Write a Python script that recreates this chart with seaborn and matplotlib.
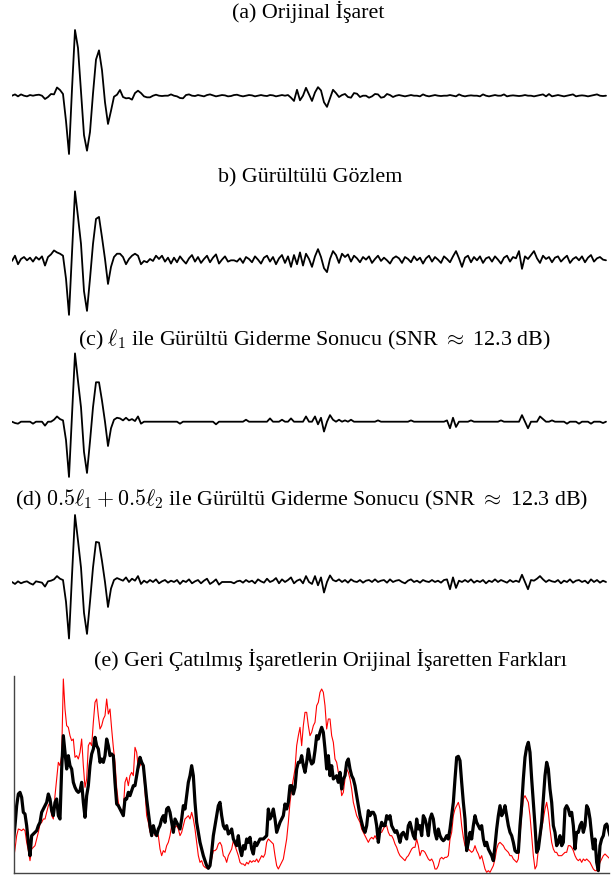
import numpy as np
import matplotlib
matplotlib.use('Agg')
import matplotlib.pyplot as plt
import seaborn as sns

# panel titles
titles = [
    '(a) Orijinal İşaret',
    'b) Gürültülü Gözlem',
    r'(c) $\ell_1$ ile Gürültü Giderme Sonucu (SNR $\approx$ 12.3 dB)',
    r'(d) $0.5\ell_1+0.5\ell_2$ ile Gürültü Giderme Sonucu (SNR $\approx$ 12.3 dB)',
    '(e) Geri Çatılmış İşaretlerin Orijinal İşaretten Farkları',
]

# (a) original signal, uniform samples
original = [
    0, 0.02, -0.01, 0.02, 0, -0.01, 0.01, 0, 0.01, 0.015, 0, -0.05, -0.02, 0.026, 0.02, 0.125, 0.087, 0.026,
    -0.385, -0.887, 0.1, 1.0, 0.726, 0.07, -0.6, -0.837, -0.553, 0.032, 0.55, 0.69, 0.388, -0.1, -0.43, -0.23, -0.015, 0.015,
    0.087, -0.02, -0.04, -0.035, -0.06, 0.04, 0.076, 0.04, -0.01, -0.025, -0.025, 0, 0.015, 0, -0.005, 0, 0, 0.02,
    0, -0.01, -0.035, -0.04, 0.01, 0.02, 0, -0.005, 0.01, 0, -0.01, 0.01, 0.02, 0.005, -0.01, 0, 0.01, 0.005, -0.01,
    -0.005, 0.01, 0.015, 0, -0.01, 0, 0.01, 0.005, -0.01, 0, 0.01, 0, -0.005, 0.01, 0.005, -0.01, 0, 0.01,
    0, 0.01, -0.03, -0.08, 0.09, -0.07, 0.0, 0.12, 0.02, -0.08, 0.05, 0.13, 0.08, -0.1, -0.17, -0.04, 0.09, 0.04, -0.02,
    0.01, 0.026, -0.02, -0.03, 0.04, 0.03, -0.02, 0, 0, -0.03, -0.01, 0.026, 0.02, -0.03, -0.02, 0.026, 0.01, -0.02, 0,
    0.01, 0, -0.01, 0, 0.01, 0, 0, -0.01, 0.02, 0, -0.01, 0, 0.01, 0, -0.005, 0, 0, 0.01, 0, -0.01,
    0.02, 0, -0.01, 0, 0.005, 0, 0, -0.01, 0.02, 0, -0.01, 0, 0.01, 0, 0, 0.02, -0.01, 0, 0.005, 0,
    -0.005, 0, 0.01, 0, 0, -0.01, 0, 0.01, 0.02, -0.01, 0.025, -0.01, 0, 0.01, 0, -0.01, 0, 0.01, 0.02, -0.01,
    0, 0.005, 0, -0.01, 0, 0.01, 0.02, 0, -0.005, 0,
]

# (b) noisy observation
noisy = [
    -0.01, 0.07, -0.06, 0.02, 0.05, 0.0, 0.04, -0.02, 0.05, 0.01, 0.06, -0.08, 0.05, 0.09, 0.15, 0.12, 0.1, 0.07,
    -0.28, -0.83, 0.11, 1.05, 0.66, 0.25, -0.47, -0.77, -0.28, 0.25, 0.63, 0.66, 0.35, 0.02, -0.36, -0.1, 0.05, 0.1,
    0.1, 0.05, -0.06, 0.02, 0.07, 0.1, 0.07, -0.06, -0.01, -0.03, 0.02, -0.01, 0.07, 0.02, 0.07, -0.02, 0.04, -0.05,
    0.04, -0.03, 0.06, 0.0, -0.05, 0.03, 0.08, -0.02, 0.05, -0.04, 0.02, 0.07, -0.03, 0.04, 0.09, -0.05, 0.01, 0.06,
    -0.02, 0.0, 0.0, -0.02, 0.03, -0.04, 0.05, 0.02, -0.03, 0.06, 0.01, -0.05, 0.04, 0.07, -0.02, 0.05, -0.06, 0.03, 0.08,
    -0.04, 0.06, -0.1, 0.08, -0.06, 0.12, -0.08, 0.1, 0.02, -0.1, 0.06, 0.17, 0.05, -0.12, -0.18, 0.02, 0.14, 0.08, -0.04,
    0.1, 0.05, 0.09, -0.02, 0.07, 0.03, -0.03, 0.05, 0.01, 0.06, -0.04, 0.02, 0.07, -0.01, 0.04, 0.0, -0.05, 0.03, 0.06,
    0.03, -0.04, 0.05, 0.02, -0.03, 0.06, 0.0, 0.04, -0.05, 0.03, 0.07, -0.02, 0.05, 0.01, -0.04, 0.06, 0.02, -0.03, 0.06, 0.14,
    0.03, -0.1, 0.04, 0.07, -0.03, 0.05, 0.0, 0.06, -0.04, 0.03, 0.05, -0.02, 0.06, 0.01, -0.05, 0.04, 0.07, -0.02, 0.05, 0.03,
    0.14, -0.13, 0.06, 0.02, 0.08, 0.14, 0.03, -0.04, 0.07, 0.02, 0.05, -0.03, 0.04, 0.06, -0.02, 0.03, 0.07, -0.04, 0.02, 0.05,
    0.0, 0.06, -0.03, 0.04, 0.08, -0.02, 0.03, 0.05, 0.01, 0.0,
]

# (c) l1 denoised
denoised_l1 = [
    0, -0.02, -0.03, 0, 0, 0, 0, -0.03, 0, 0, 0, -0.06, 0, 0, 0.03, 0.08, 0.04, 0.02,
    -0.28, -0.84, 0.1, 1.04, 0.62, 0.22, -0.46, -0.78, -0.3, 0.22, 0.6, 0.6, 0.32, 0.0, -0.37, -0.1, 0.03, 0.06,
    0.05, 0.02, 0.06, 0.02, 0.04, 0.01, 0.08, -0.03, 0.0, 0, 0, 0, 0, 0, 0, 0, 0, 0,
    0, 0, -0.03, 0, 0, 0, 0, 0, 0, 0, 0, 0, 0, 0, -0.04, 0, 0, 0, 0,
    0, 0, 0, 0, 0, 0.03, 0, 0, 0, 0, 0, 0, 0, 0.05, 0, 0, 0, 0.03,
    0, 0, 0.05, 0, 0, 0, 0, 0.08, 0, 0, 0.08, -0.04, 0.06, -0.15, 0.0, 0.1, 0.03, 0, 0.03,
    0, 0.02, 0, 0.03, 0, 0, 0, 0, 0, 0, 0, 0, 0.02, 0, 0, 0, 0, 0, 0,
    0, 0, 0, 0, 0.02, 0, 0, 0, 0, 0, 0, 0, 0, 0, 0, 0, 0.02, -0.1, 0.06, -0.08,
    0, 0, 0, 0, 0.02, 0, 0, 0, 0, 0, 0, 0, 0, 0, 0.02, 0, 0, 0, 0, 0,
    0, 0.1, 0.0, -0.1, 0, 0, 0, 0.08, 0.04, 0, 0, 0.02, 0, 0, 0, 0, -0.03, 0, 0, 0,
    -0.03, 0, 0, 0, -0.03, 0, 0, 0, -0.02, 0,
]

# (d) 0.5 l1 + 0.5 l2 denoised
denoised_mix = [
    0, -0.03, 0.01, -0.02, 0, 0.01, -0.02, -0.04, 0.01, 0, -0.01, -0.07, 0.01, 0.02, 0.04, 0.09, 0.05, 0.03,
    -0.3, -0.86, 0.1, 1.02, 0.63, 0.22, -0.47, -0.79, -0.3, 0.22, 0.61, 0.6, 0.32, 0.0, -0.38, -0.1, 0.03, 0.06,
    0.04, 0.02, 0.07, 0.0, 0.05, 0.02, 0.09, -0.03, 0.02, -0.01, 0.03, 0.0, 0.04, -0.02, 0.01, 0.03, -0.01, 0.02,
    0.0, 0.03, -0.03, 0.02, 0.0, 0.04, -0.02, 0.01, 0.03, -0.02, 0.02, 0.05, -0.03, 0.0, 0.04, -0.04, 0.0, 0.0, 0.0,
    0.0, -0.02, 0.01, 0.02, -0.01, 0.03, 0.0, 0.02, -0.02, 0.04, 0.01, -0.01, 0.05, 0.0, 0.02, 0.06, -0.02, 0.04,
    0.0, 0.03, 0.07, -0.02, 0.02, 0.04, -0.02, 0.09, 0.0, -0.03, 0.09, -0.05, 0.07, -0.16, 0.0, 0.1, 0.03, 0.01, 0.04,
    0.0, 0.03, -0.01, 0.04, 0.01, 0.0, 0.03, -0.01, 0.02, 0.03, 0.0, 0.04, 0.0, 0.02, 0.03, -0.01, 0.04, 0.0, 0.02,
    0.03, 0.0, -0.02, 0.02, 0.04, 0.0, 0.02, -0.01, 0.03, 0.01, 0.0, 0.03, 0.0, 0.02, -0.01, 0.03, 0.04, -0.11, 0.07, -0.09,
    0.02, 0.0, 0.03, 0.0, 0.04, -0.01, 0.02, 0.0, 0.03, -0.02, 0.02, 0.0, 0.04, 0.0, 0.03, 0.01, -0.01, 0.03, 0.0, 0.02,
    0.0, 0.11, 0.0, -0.11, 0.03, 0.02, 0.05, 0.09, 0.04, 0.0, 0.03, 0.01, 0.0, 0.03, -0.02, 0.02, 0.0, 0.04, -0.01, 0.02,
    0.03, 0.0, 0.02, -0.02, 0.04, 0.0, 0.03, -0.01, 0.02, 0.0,
]

# (e) differences from the original (arbitrary units)
diff_l1 = [
    92, 142, 202, 237, 242, 227, 182, 177, 142, 92,
    52, 112, 117, 122, 127, 142, 152, 182, 192, 202,
    212, 237, 222, 187, 172, 212, 222, 172, 162, 312,
    412, 362, 312, 352, 322, 312, 272, 257, 247, 242,
    247, 272, 212, 167, 232, 262, 322, 357, 372, 407,
    382, 372, 332, 342, 332, 352, 402, 382, 352, 357,
    352, 272, 207, 202, 192, 182, 172, 222, 222, 242,
    232, 247, 262, 262, 292, 322, 347, 332, 322, 272,
    222, 182, 142, 112, 142, 122, 112, 132, 142, 162,
    172, 152, 192, 197, 182, 152, 122, 162, 152, 142,
    132, 162, 202, 192, 232, 272, 292, 322, 292, 212,
    152, 122, 92, 72, 52, 37, 22, 14, 22, 62,
    112, 142, 172, 202, 212, 172, 142, 132, 142, 117,
    122, 132, 102, 92, 82, 112, 72, 52, 82, 72,
    102, 92, 107, 72, 57, 92, 82, 92, 102, 102,
    102, 107, 112, 192, 162, 172, 192, 162, 122, 137,
    152, 162, 172, 207, 192, 212, 262, 262, 237, 257,
    312, 332, 332,
    352, 322, 302, 332, 372, 342, 327, 332, 367, 412,
    402, 422, 437, 422, 372, 312, 352, 292, 322, 282,
    287, 292, 272, 302, 252, 282, 292, 332, 342, 312,
    292, 282, 262, 232, 202, 172, 152, 132, 122, 142,
    187, 172, 182, 182, 172, 142, 92, 132, 152, 142,
    142, 172, 162, 172, 142, 132, 122, 127, 112, 92,
    117, 122, 112, 102, 142, 152, 132, 112, 102, 162,
    132, 142, 112, 172, 162, 142, 112, 162, 177, 162,
    122, 102, 132, 112, 102, 97, 102, 112, 102, 132,
    172, 212, 282, 347, 350, 337, 272, 212, 162, 67,
    92, 122, 102, 142, 172, 152, 142, 132, 142, 102,
    82, 92, 72, 62, 52, 37, 82, 132, 172, 202,
    172, 182, 202, 172, 142, 122, 112, 92, 67, 62,
    62, 142, 202, 282, 347, 377, 392, 362, 282, 212,
    142, 62, 72, 112, 152, 222, 292, 332, 312, 252,
    212, 142, 122, 82, 92, 112, 82, 92, 192, 202,
    192, 172, 182, 142, 72, 122, 122, 142, 152, 122,
    142, 202, 192, 162, 112, 72, 102, 32, 7, 82,
    102, 112, 142, 147, 132, 112,
]

diff_mix = [
    37, 72, 112, 132, 130, 127, 132, 127, 92, 67,
    37, 72, 77, 82, 102, 122, 147, 152, 162, 162,
    182, 202, 212, 172, 162, 232, 282, 332, 322, 352,
    582, 492, 442, 437, 412, 397, 402, 347, 352, 342,
    362, 402, 322, 257, 282, 382, 392, 382, 452, 512,
    522, 472, 432, 442, 462, 472, 522, 477, 492, 432,
    377, 332, 257, 212, 192, 182, 192, 272, 287, 262,
    292, 302, 292, 377, 362, 312, 322, 332, 317, 242,
    172, 152, 122, 142, 132, 112, 122, 112, 72, 52,
    67, 62, 82, 92, 112, 142, 132, 137, 142, 132,
    112, 122, 142, 162, 167, 172, 162, 182, 162, 132,
    92, 52, 32, 37, 22, 17, 14, 17, 22, 42,
    67, 67, 72, 87, 92, 82, 52, 47, 32, 52,
    62, 72, 97, 82, 67, 52, 32, 27, 27, 22,
    32, 27, 37, 32, 37, 34, 42, 32, 42, 52,
    47, 57, 92, 102, 97, 92, 87, 52, 22, 12,
    22, 32, 42, 72, 102, 152, 212, 252, 282, 312,
    382, 412, 437,
    382, 442, 482, 482, 442, 412, 422, 442, 452, 502,
    512, 542, 552, 542, 502, 432, 462, 462, 412, 392,
    342, 332, 302, 282, 232, 242, 282, 312, 302, 282,
    252, 212, 192, 172, 162, 152, 132, 122, 112, 102,
    92, 102, 107, 102, 112, 102, 102, 122, 122, 132,
    142, 142, 122, 112, 112, 102, 87, 77, 62, 52,
    47, 42, 37, 47, 52, 62, 72, 77, 77, 102,
    82, 52, 67, 67, 62, 52, 42, 37, 42, 32,
    12, 12, 22, 42, 47, 42, 47, 47, 52, 102,
    122, 172, 192, 202, 212, 192, 142, 107, 82, 72,
    72, 67, 62, 67, 82, 67, 57, 42, 52, 32,
    12, 2, 7, 2, 12, 22, 42, 72, 87, 92,
    87, 82, 72, 67, 62, 52, 52, 42, 37, 32,
    42, 112, 172, 222, 232, 222, 212, 172, 112, 52,
    12, 22, 72, 102, 132, 162, 192, 212, 182, 132,
    92, 72, 62, 62, 52, 52, 52, 57, 62, 62,
    82, 82, 77, 67, 52, 42, 37, 42, 32, 42,
    37, 42, 37, 32, 22, 12, 7, 7, 17, 32,
    42, 52, 57, 52, 47, 42,
]

W, H = 616, 879
UNIT_PX = 65.7

sns.set_style('white')
plt.rcParams['font.family'] = ['Liberation Serif', 'DejaVu Serif']
plt.rcParams['mathtext.fontset'] = 'cm'

fig = plt.figure(figsize=(W / 100, H / 100), dpi=100)


def add_signal(signal, top, bottom, base):
    ax = fig.add_axes([12 / W, 1 - bottom / H, (608 - 12) / W, (bottom - top) / H])
    sns.lineplot(x=np.arange(len(signal)), y=signal, ax=ax, color='black', linewidth=1.3)
    ax.set_xlim(0, 198.67)
    ax.set_ylim((base - bottom) / UNIT_PX, (base - top) / UNIT_PX)
    ax.set_axis_off()
    return ax


add_signal(original, 22, 165, 96.7)
add_signal(noisy, 185, 330, 261.3)
add_signal(denoised_l1, 345, 490, 422.7)
add_signal(denoised_mix, 505, 650, 583)

ax = fig.add_axes([14 / W, 1 - 874 / H, (609 - 14) / W, (874 - 677) / H])
sns.lineplot(x=np.arange(len(diff_mix)), y=diff_mix, ax=ax, color='red', linewidth=0.8)
sns.lineplot(x=np.arange(len(diff_l1)), y=diff_l1, ax=ax, color='black', linewidth=2.3)
ax.set_xlim(0.4, 357.4)
ax.set_ylim(0, 591)
ax.set_xticks([])
ax.set_yticks([])
ax.set_xlabel('')
ax.set_ylabel('')
sns.despine(ax=ax)
for side in ['left', 'bottom']:
    ax.spines[side].set_color('#444444')
    ax.spines[side].set_linewidth(1.0)

# title positions in pixels (x centre, y centre)
title_pos = [(308, 12), (310, 178), (314, 340), (302, 500), (330, 660)]
for text, (tx, ty) in zip(titles, title_pos):
    fig.text(tx / W, 1 - ty / H, text, ha='center', va='center', fontsize=15.8, color='black')

fig.savefig('out.png', dpi=100)
